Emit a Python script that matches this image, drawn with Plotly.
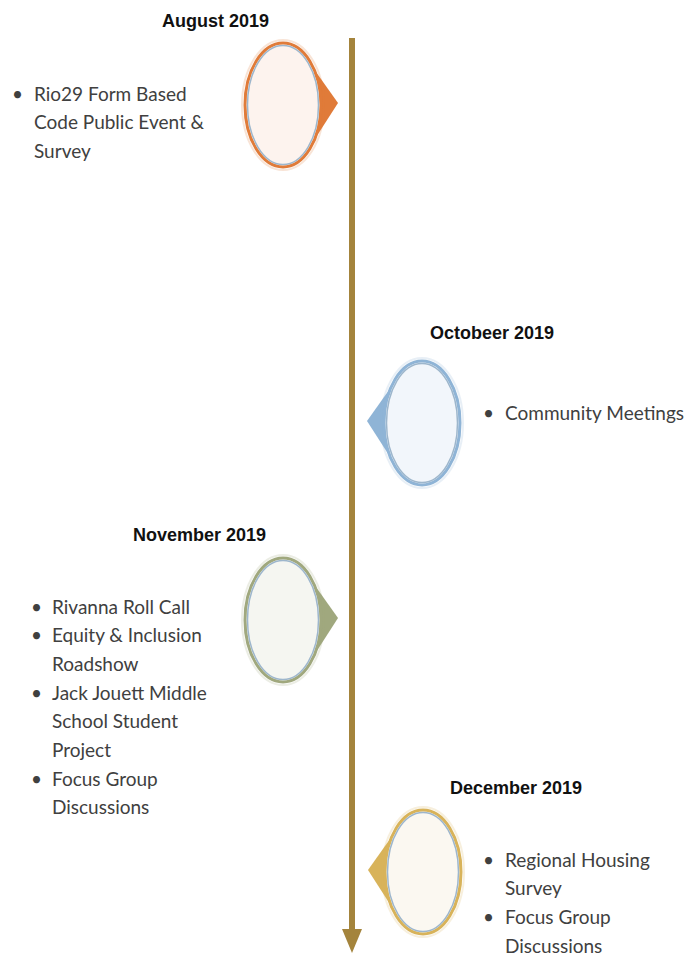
import plotly.graph_objects as go

# timeline content
MONTHS = ["August 2019", "Octobeer 2019", "November 2019", "December 2019"]
SIDES = ["left", "right", "left", "right"]
ITEMS = [
    [["Rio29 Form Based", "Code Public Event &", "Survey"]],
    [["Community Meetings"]],
    [["Rivanna Roll Call"], ["Equity & Inclusion", "Roadshow"],
     ["Jack Jouett Middle", "School Student", "Project"], ["Focus Group", "Discussions"]],
    [["Regional Housing", "Survey"], ["Focus Group", "Discussions"]],
]

# layout (pixel coordinates, y grows downwards)
W, H = 695, 953
HEAD_XY = [(215, 21), (492, 333), (199, 535), (516, 788)]
BUBBLE_XY = [(283, 105), (422, 423), (283, 620), (423, 872)]
TEXT_XY = [(10, 32, 93), (481, 503, 412), (29, 50, 606), (481, 503, 859)]
LINE_STEP = 28.7
RX, RY = 38, 62

ACCENTS = ["#E07B39", "#8FB4D6", "#A0A87E", "#D8B35A"]
FILLS = ["#FDF3EE", "#F2F6FB", "#F5F6F1", "#FBF8F1"]
RING = "#9DB6CC"
AXIS_COL = "#A4843C"
BODY_FONT = dict(family="Lato, Open Sans, sans-serif", size=19, color="#404040")
HEAD_FONT = dict(family="Liberation Sans, Arial, sans-serif", size=18, color="#111111")

fig = go.Figure()
shapes, annotations = [], []

# vertical arrow
shapes.append(dict(type="rect", x0=349, x1=355, y0=38, y1=931,
                   fillcolor=AXIS_COL, line_width=0, layer="below"))
shapes.append(dict(type="path", path="M 342,929 L 362,929 L 352,953 Z",
                   fillcolor=AXIS_COL, line_width=0, layer="below"))

for i, month in enumerate(MONTHS):
    cx, cy = BUBBLE_XY[i]
    sign = 1 if SIDES[i] == "left" else -1
    tip = cx + sign * (RX + 17)
    edge = cx + sign * (RX - 10)
    # pointer behind the bubble
    shapes.append(dict(type="path",
                       path=f"M {edge},{cy - 40} L {tip},{cy - 2} L {edge},{cy + 40} Z",
                       fillcolor=ACCENTS[i], line_width=0))
    # faint halo
    shapes.append(dict(type="circle", x0=cx - RX - 3, x1=cx + RX + 3, y0=cy - RY - 3, y1=cy + RY + 3,
                       fillcolor="rgba(0,0,0,0)", line=dict(color=ACCENTS[i], width=2), opacity=0.2))
    shapes.append(dict(type="circle", x0=cx - RX, x1=cx + RX, y0=cy - RY, y1=cy + RY,
                       fillcolor=FILLS[i], line=dict(color=ACCENTS[i], width=3)))
    shapes.append(dict(type="circle", x0=cx - RX + 2.5, x1=cx + RX - 2.5, y0=cy - RY + 2.5, y1=cy + RY - 2.5,
                       fillcolor="rgba(0,0,0,0)", line=dict(color=RING, width=1.5)))

    hx, hy = HEAD_XY[i]
    annotations.append(dict(x=hx, y=hy, text=f"<b>{month}</b>", showarrow=False,
                            xanchor="center", yanchor="middle", font=HEAD_FONT))

    bx, tx, ty = TEXT_XY[i]
    row = 0
    for item in ITEMS[i]:
        annotations.append(dict(x=bx, y=ty + row * LINE_STEP, text="•", showarrow=False,
                                xanchor="left", yanchor="middle", font=BODY_FONT))
        for line in item:
            annotations.append(dict(x=tx, y=ty + row * LINE_STEP, text=line, showarrow=False,
                                    xanchor="left", yanchor="middle", font=BODY_FONT))
            row += 1

fig.update_layout(
    width=W, height=H,
    margin=dict(l=0, r=0, t=0, b=0),
    paper_bgcolor="white", plot_bgcolor="white",
    shapes=shapes, annotations=annotations,
    showlegend=False,
)
fig.update_xaxes(range=[0, W], visible=False, fixedrange=True)
fig.update_yaxes(range=[H, 0], visible=False, fixedrange=True)

# drop the default page margin so the figure sits at the window's corner
fig.write_html("out.html", config={"displayModeBar": False},
               post_script="document.body.style.margin='0';document.body.style.overflow='hidden';")
